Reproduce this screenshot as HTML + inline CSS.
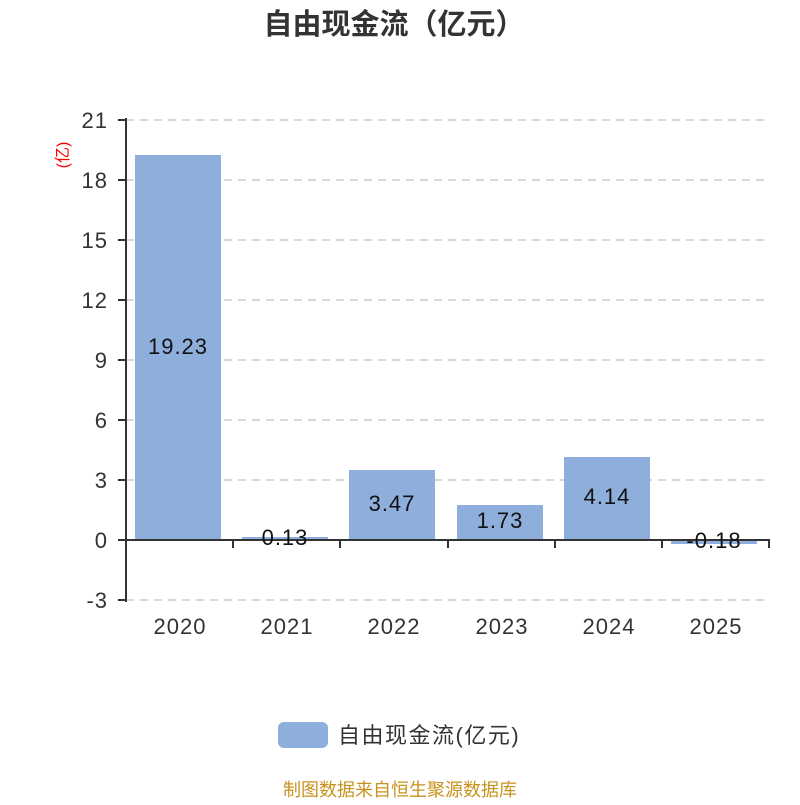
<!DOCTYPE html>
<html><head><meta charset="utf-8"><style>body{margin:0;background:#fff}</style></head><body>
<svg width="800" height="800" xmlns="http://www.w3.org/2000/svg" font-family="Liberation Sans, Noto Sans CJK SC, sans-serif">
<rect width="800" height="800" fill="#fff"/>
<text x="394" y="34" text-anchor="middle" font-size="29" font-weight="bold" fill="#333">自由现金流（亿元）</text>
<g stroke="#ccc" stroke-dasharray="8,6" stroke-width="1.5">
<line x1="126" y1="120" x2="770" y2="120"/><line x1="126" y1="180" x2="770" y2="180"/>
<line x1="126" y1="240" x2="770" y2="240"/><line x1="126" y1="300" x2="770" y2="300"/>
<line x1="126" y1="360" x2="770" y2="360"/><line x1="126" y1="420" x2="770" y2="420"/>
<line x1="126" y1="480" x2="770" y2="480"/><line x1="126" y1="600" x2="770" y2="600"/>
</g>
<g fill="#8eaedb">
<rect x="135" y="155" width="86" height="385"/>
<rect x="242" y="537" width="86" height="3"/>
<rect x="349" y="470" width="86" height="70"/>
<rect x="457" y="505" width="86" height="35"/>
<rect x="564" y="457" width="86" height="83"/>
<rect x="671" y="540" width="86" height="4"/>
</g>
<g stroke="#333" stroke-width="2">
<line x1="126" y1="118" x2="126" y2="602"/>
<line x1="118" y1="120" x2="126" y2="120"/><line x1="118" y1="180" x2="126" y2="180"/>
<line x1="118" y1="240" x2="126" y2="240"/><line x1="118" y1="300" x2="126" y2="300"/>
<line x1="118" y1="360" x2="126" y2="360"/><line x1="118" y1="420" x2="126" y2="420"/>
<line x1="118" y1="480" x2="126" y2="480"/><line x1="118" y1="540" x2="126" y2="540"/>
<line x1="118" y1="600" x2="126" y2="600"/>
<line x1="126" y1="540" x2="770" y2="540"/>
<line x1="233" y1="540" x2="233" y2="548"/><line x1="340" y1="540" x2="340" y2="548"/>
<line x1="448" y1="540" x2="448" y2="548"/><line x1="555" y1="540" x2="555" y2="548"/>
<line x1="662" y1="540" x2="662" y2="548"/><line x1="769" y1="540" x2="769" y2="548"/>
</g>
<g font-size="22" fill="#333" text-anchor="end" letter-spacing="1">
<text x="108" y="128">21</text><text x="108" y="188">18</text><text x="108" y="248">15</text>
<text x="108" y="308">12</text><text x="108" y="368">9</text><text x="108" y="428">6</text>
<text x="108" y="488">3</text><text x="108" y="548">0</text><text x="108" y="608">-3</text>
</g>
<text transform="translate(68,155) rotate(-90)" text-anchor="middle" font-size="16" fill="red">(亿)</text>
<g font-size="22" fill="#333" text-anchor="middle" letter-spacing="1">
<text x="180" y="634">2020</text><text x="287" y="634">2021</text><text x="394" y="634">2022</text>
<text x="502" y="634">2023</text><text x="609" y="634">2024</text><text x="716" y="634">2025</text>
</g>
<g font-size="22" fill="#111" text-anchor="middle" letter-spacing="1">
<text x="178" y="354">19.23</text><text x="285" y="545">0.13</text><text x="392" y="511">3.47</text>
<text x="500" y="528">1.73</text><text x="607" y="504">4.14</text><text x="714" y="548">-0.18</text>
</g>
<rect x="278" y="722" width="50" height="26" rx="6" fill="#8eaedb"/>
<text x="338" y="743" font-size="22" fill="#333" letter-spacing="1.5">自由现金流(亿元)</text>
<text x="400" y="796" text-anchor="middle" font-size="18" fill="#c8921e">制图数据来自恒生聚源数据库</text>
</svg>
</body></html>
